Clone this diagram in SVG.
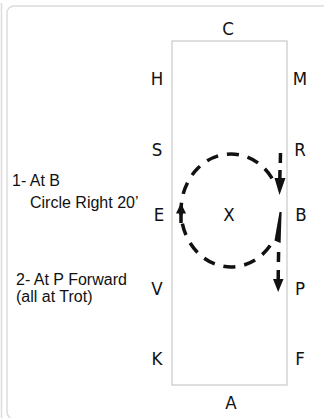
<svg xmlns="http://www.w3.org/2000/svg" width="324" height="418" viewBox="0 0 324 418">
  <style>
    .frame { fill: #ffffff; stroke: #dcdcdc; stroke-width: 1.5; }
    .arena { fill: #ffffff; stroke: #c8c8c8; stroke-width: 1.2; }
    .letter { font-family: "DejaVu Sans Condensed", "DejaVu Sans", sans-serif; font-size: 18.5px; fill: #111111; text-anchor: middle; }
    .note { font-family: "Liberation Sans", Arial, sans-serif; font-size: 16px; fill: #111111; }
    .path { fill: none; stroke: #111111; stroke-width: 3.5; }
    .dashed { stroke-dasharray: 12 8.93; stroke-dashoffset: 16.465; }
    .head { fill: #111111; stroke: none; }
  </style>
  <rect width="324" height="418" fill="#ffffff"/>
  <line x1="1.5" y1="3" x2="1.5" y2="418" stroke="#dcdcdc" stroke-width="1.5"/>
  <rect class="frame" x="7" y="6" width="340" height="413" rx="7"/>

  <g id="arena">
    <rect class="arena" x="172" y="41" width="115" height="344"/>
  </g>

  <g id="letters">
    <g id="C"><text class="letter" x="228" y="35">C</text></g>
    <g id="H"><text class="letter" x="157" y="85">H</text></g>
    <g id="M"><text class="letter" x="300" y="85">M</text></g>
    <g id="S"><text class="letter" x="157" y="156">S</text></g>
    <g id="R"><text class="letter" x="300" y="156">R</text></g>
    <g id="E"><text class="letter" x="159" y="221">E</text></g>
    <g id="X"><text class="letter" x="229" y="221">X</text></g>
    <g id="B"><text class="letter" x="301" y="221">B</text></g>
    <g id="V"><text class="letter" x="157" y="295">V</text></g>
    <g id="P"><text class="letter" x="300" y="295">P</text></g>
    <g id="K"><text class="letter" x="157" y="365">K</text></g>
    <g id="F"><text class="letter" x="300" y="365">F</text></g>
    <g id="A"><text class="letter" x="231" y="409">A</text></g>
  </g>

  <g id="instructions">
    <text class="note" x="12" y="186">1- At B</text>
    <text class="note" x="30" y="208">Circle Right 20’</text>
    <text class="note" x="16" y="285">2- At P Forward</text>
    <text class="note" x="16" y="302">(all at Trot)</text>
  </g>

  <g id="connectors">
    <path class="path dashed" d="M272.57,241.89 A50,56.5 0 1 1 272.57,179.11"/>
    <line class="path" x1="181" y1="209" x2="181" y2="223"/>
    <polygon class="head" points="181,203 186,213.5 176,213.5"/>
    <line class="path" x1="280.5" y1="153" x2="280.3" y2="163"/>
    <line class="path" x1="280" y1="170" x2="279.8" y2="180"/>
    <polygon class="head" points="274.5,178 285.5,178 279.5,195"/>
    <polygon class="head" points="279.5,212 281.6,212 280.6,243 274.5,240.5"/>
    <line class="path" x1="278.6" y1="252" x2="278.4" y2="262"/>
    <line class="path" x1="278.3" y1="270" x2="278.2" y2="281"/>
    <polygon class="head" points="273,279 283.5,279 278.2,292"/>
  </g>
</svg>
